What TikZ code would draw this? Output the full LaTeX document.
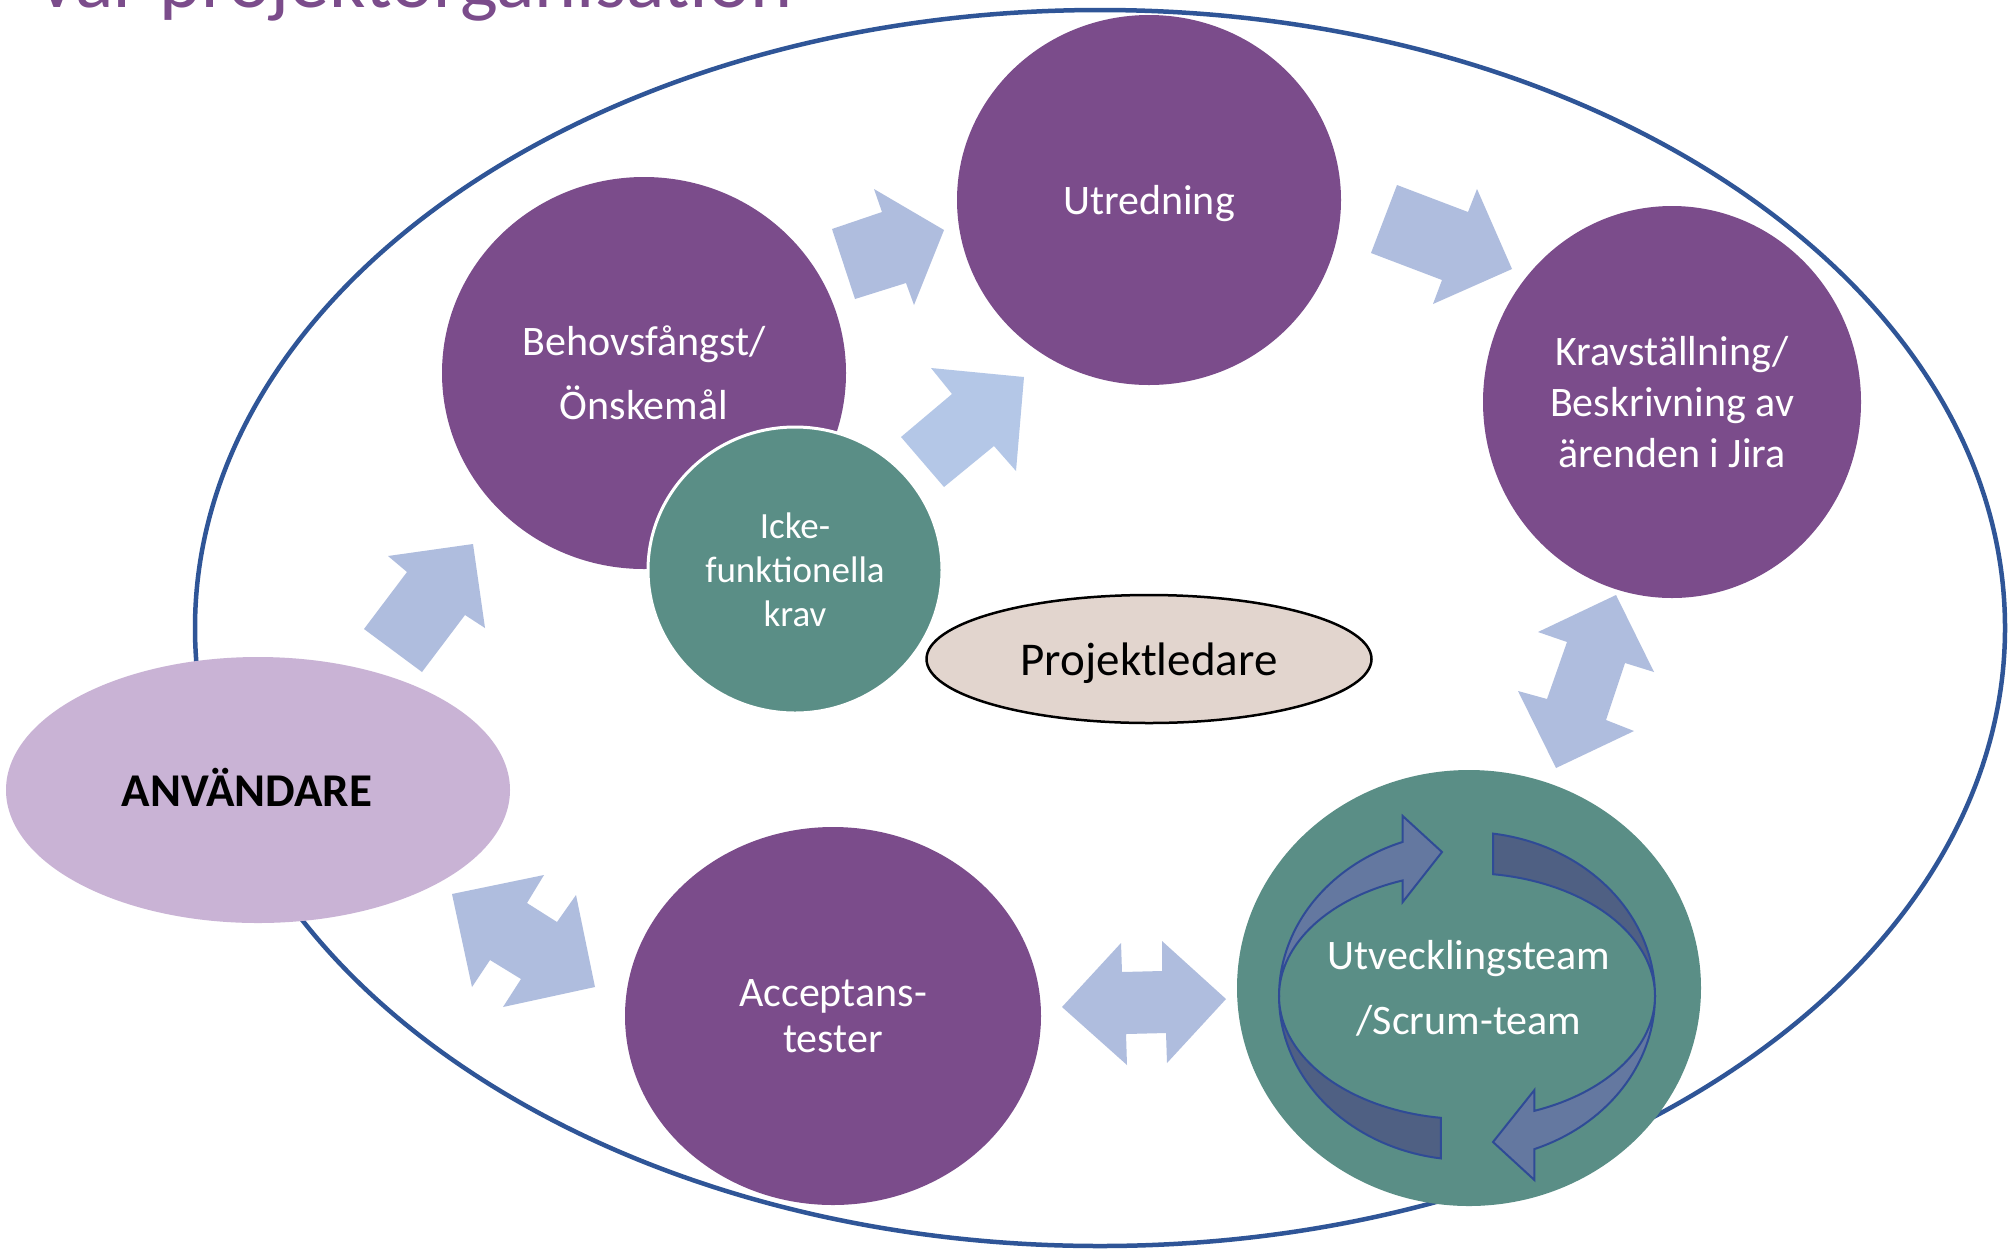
\documentclass[tikz,border=0pt]{standalone}
\usepackage{fontspec}
\setmainfont{Carlito}
\usetikzlibrary{shapes.geometric}
\definecolor{cPurple}{RGB}{123,76,139}
\definecolor{cTeal}{RGB}{90,142,134}
\definecolor{cLilac}{RGB}{201,179,213}
\definecolor{cBeige}{RGB}{226,213,206}
\definecolor{cArrow}{RGB}{175,189,222}
\definecolor{cArrowB}{RGB}{180,199,231}
\definecolor{cFrame}{RGB}{47,85,151}
\definecolor{cScrumLight}{RGB}{100,120,160}
\definecolor{cScrumDark}{RGB}{79,96,131}
\definecolor{cScrumLine}{RGB}{47,75,150}
\tikzset{
  bubble/.style={ellipse, inner sep=0pt, align=center, text=white, font=\fontsize{42}{51}\selectfont},
  blockarrow/.style={fill=cArrow, draw=none},
  scrumlight/.style={fill=cScrumLight, draw=cScrumLine, line width=2, line join=miter},
  scrumdark/.style={fill=cScrumDark, draw=cScrumLine, line width=2, line join=miter},
}
\begin{document}
\begin{tikzpicture}[x=1pt,y=-1pt]
\useasboundingbox (0,0) rectangle (2010,1254);
\clip (0,0) rectangle (2010,1254);
\fill[white] (0,0) rectangle (2010,1254);

% title (cut off at the top)
\node[anchor=base west, inner sep=0pt, text=cPurple, font=\fontsize{80}{92}\selectfont] (title) at (34,7) {Vår projektorganisation};

% outer frame
\node[ellipse, draw=cFrame, line width=4.5, minimum width=1810, minimum height=1236, inner sep=0pt] (frame) at (1100,628) {};

% circles
\node[bubble, fill=cPurple, minimum width=384, minimum height=370, text depth=0pt] (utr) at (1149,200) {Utredning};
\node[bubble, fill=cPurple, minimum width=404, minimum height=392, font=\fontsize{42}{64}\selectfont] (beh) at (644,373) {Behovsfångst/\\Önskemål};
\node[bubble, fill=cPurple, minimum width=378, minimum height=392] (krav) at (1672,402) {Kravställning/\\Beskrivning av\\ärenden i Jira};
\node[bubble, fill=cTeal, draw=white, line width=3, minimum width=294, minimum height=286, font=\fontsize{37}{44}\selectfont] (icke) at (795,570) {Icke-\\funktionella\\krav};
\node[ellipse, fill=cBeige, draw=black, line width=2.5, minimum width=445, minimum height=128, inner sep=0pt, text depth=0pt, font=\fontsize{47}{56}\selectfont] (pl) at (1149,659) {Projektledare};
\node[ellipse, fill=cLilac, minimum width=504, minimum height=266, inner sep=0pt] (anv) at (258,790) {};
\node[font=\bfseries\fontsize{47}{56}\selectfont, inner sep=0pt] (anvtext) at ([xshift=-11,yshift=3]anv.center) {ANVÄNDARE};
\node[bubble, fill=cPurple, minimum width=416, minimum height=378, font=\fontsize{42}{46}\selectfont] (acc) at (833,1016) {Acceptans-\\tester};
\node[bubble, fill=cTeal, minimum width=464, minimum height=436] (dev) at (1469,988) {};

% scrum cycle arrows
\filldraw[scrumdark] plot[domain=82:0, samples=40] ({1467+188*cos(\x)},{996-164*sin(\x)})
  -- plot[domain=0:82, samples=40] ({1467+188*cos(\x)},{996-123*sin(\x)}) -- cycle;
\filldraw[scrumdark] plot[domain=180:262, samples=40] ({1467+188*cos(\x)},{996-164*sin(\x)})
  -- plot[domain=262:180, samples=40] ({1467+188*cos(\x)},{996-123*sin(\x)}) -- cycle;
\filldraw[scrumlight] plot[domain=180:110, samples=40] ({1467+188*cos(\x)},{996-164*sin(\x)})
  -- (1402.7,816) -- (1442,852) -- (1402.7,902)
  -- plot[domain=110:180, samples=40] ({1467+188*cos(\x)},{996-123*sin(\x)}) -- cycle;
\filldraw[scrumlight] plot[domain=0:-69, samples=40] ({1467+188*cos(\x)},{996-164*sin(\x)})
  -- (1534.4,1180) -- (1493,1142) -- (1534.4,1090)
  -- plot[domain=-69:0, samples=40] ({1467+188*cos(\x)},{996-123*sin(\x)}) -- cycle;
\node[align=center, text=white, font=\fontsize{42}{65}\selectfont, inner sep=0pt] (devtext) at (dev.center) {Utvecklingsteam\\/Scrum-team};

% block arrows
\fill[blockarrow] (364,629) -- (407,572) -- (388,556) -- (473,544) -- (485,628) -- (465,615) -- (422,672) -- cycle;
\fill[blockarrow] (832,229) -- (882,212) -- (874,189) -- (944,230) -- (914,305) -- (906,283) -- (855,299) -- cycle;
\fill[blockarrow, fill=cArrowB] (901,437) -- (952,394) -- (931,368) -- (1024,377) -- (1016,471) -- (994,446) -- (944,487) -- cycle;
\fill[blockarrow] (1397,185) -- (1468,212) -- (1477,189) -- (1512,269) -- (1433,304) -- (1442,280) -- (1371,253) -- cycle;
\fill[blockarrow] (1616,595) -- (1654,672) -- (1625,663) -- (1606,720) -- (1634,731) -- (1556,768) -- (1518,691) -- (1547,699) -- (1567,642) -- (1538,632) -- cycle;
\fill[blockarrow] (1062,1007) -- (1121,943) -- (1122,972) -- (1162,971) -- (1162,941) -- (1226,999) -- (1167,1063) -- (1166,1033) -- (1126,1034) -- (1127,1065) -- cycle;
\fill[blockarrow] (452,894) -- (544,875) -- (527,903) -- (557,922) -- (576,895) -- (595,987) -- (503,1007) -- (521,979) -- (490,960) -- (472,987) -- cycle;
\end{tikzpicture}
\end{document}
